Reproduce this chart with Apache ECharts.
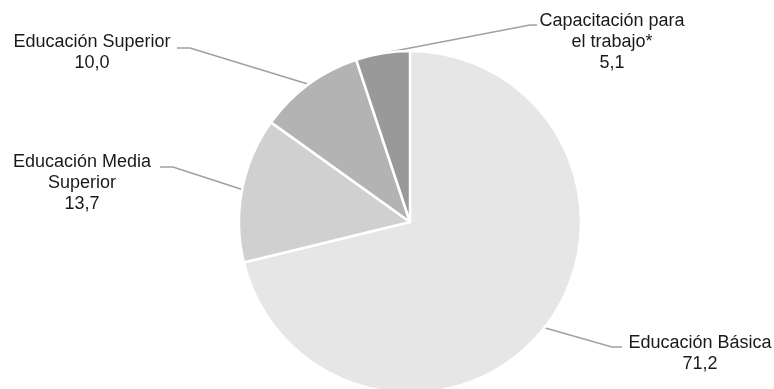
<!DOCTYPE html>
<html>
<head>
<meta charset="utf-8">
<script src="https://cdn.jsdelivr.net/npm/echarts@6/dist/echarts.min.js"></script>
<style>
  html, body { margin: 0; padding: 0; background: #ffffff; }
  #chart { width: 774px; height: 389px; }
</style>
</head>
<body>
<div id="chart"></div>
<script>
// Distribution by education type (percent)
const categories = [
  'Educación Básica',
  'Educación Media\nSuperior',
  'Educación Superior',
  'Capacitación para\nel trabajo*'
];
const values = [71.2, 13.7, 10.0, 5.1];
const sliceColors = ['#e6e6e6', '#d0d0d0', '#b3b3b3', '#999999'];

// Label anchor (text block centre) and leader-line bend, per slice
const labelAnchors = [
  { x: 700, y: 354, elbow: [612, 347], end: [622, 347] },
  { x: 82,  y: 183, elbow: [173, 167], end: [160, 167] },
  { x: 92,  y: 53,  elbow: [190, 48],  end: [177, 48] },
  { x: 612, y: 42,  elbow: [530, 25],  end: [537, 25] }
];

const fmtNum = v => v.toFixed(1).replace('.', ',');

const chart = echarts.init(document.getElementById('chart'), null, { renderer: 'canvas' });
chart.setOption({
  animation: false,
  backgroundColor: '#ffffff',
  series: [{
    type: 'pie',
    center: [410, 222],
    radius: [0, 171],
    startAngle: 90,
    clockwise: true,
    avoidLabelOverlap: false,
    itemStyle: { borderColor: '#ffffff', borderWidth: 2.5 },
    label: {
      show: true,
      fontFamily: 'Liberation Sans, Arial, sans-serif',
      fontSize: 18,
      lineHeight: 21,
      color: '#1a1a1a',
      align: 'center',
      formatter: p => p.name + '\n' + fmtNum(p.value)
    },
    labelLine: {
      show: true,
      lineStyle: { color: '#a0a0a0', width: 1.5 }
    },
    labelLayout: params => {
      const a = labelAnchors[params.dataIndex];
      const start = params.labelLinePoints ? params.labelLinePoints[0] : a.elbow;
      return {
        x: a.x,
        y: a.y,
        align: 'center',
        verticalAlign: 'middle',
        labelLinePoints: [start, a.elbow, a.end]
      };
    },
    data: categories.map((name, i) => ({
      name: name,
      value: values[i],
      itemStyle: { color: sliceColors[i] }
    }))
  }]
});
</script>
</body>
</html>
